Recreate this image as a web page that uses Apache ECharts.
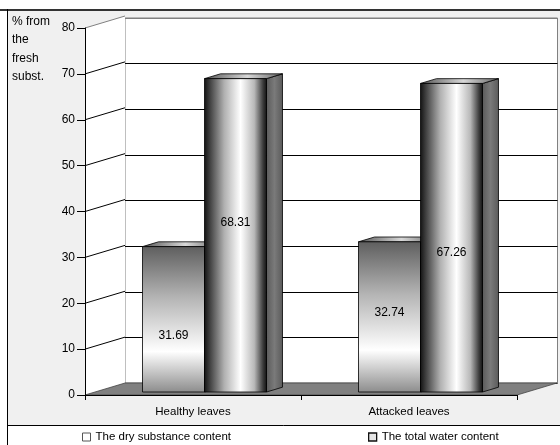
<!DOCTYPE html>
<html>
<head>
<meta charset="utf-8">
<script src="https://cdn.jsdelivr.net/npm/echarts@6/dist/echarts.min.js"></script>
<style>
  html, body { margin: 0; padding: 0; background: #fff; }
  #chart { width: 560px; height: 445px; }
</style>
</head>
<body>
<div id="chart"></div>
<script>
// Leaf water content: share of fresh substance (%)
const categories = ['Healthy leaves', 'Attacked leaves'];
const seriesNames = ['The dry substance content', 'The total water content'];
const dryValues = [31.69, 32.74];
const waterValues = [68.31, 67.26];
const Y_MIN = 0, Y_MAX = 80, Y_STEP = 10;

// 3D look: depth of the box and of the bars (pixels / fractions of depth)
const DX = 40, DY = -12;
const BAR_FRONT = 0.25, BAR_DEPTH = 0.4, BAR_FRAC = 0.287;
// where each value label sits, as a share of its bar height [series][category]
const LABEL_RISE = [[0.39, 0.53], [0.54, 0.45]];

const FONT = "'Liberation Sans', Arial, sans-serif";
const FS = 11.5;

function renderWalls(params, api) {
  const band = api.size([1, 0])[0];
  const left = api.coord([0, 0])[0] - band / 2;
  const right = api.coord([categories.length - 1, 0])[0] + band / 2;
  const y0 = api.coord([0, Y_MIN])[1];
  const yTop = api.coord([0, Y_MAX])[1];
  const children = [];
  children.push({
    type: 'polygon',
    shape: { points: [[left, yTop], [left + DX, yTop + DY], [left + DX, y0 + DY], [left, y0]] },
    style: { fill: '#fff' }
  });
  for (let v = Y_MIN + Y_STEP; v <= Y_MAX; v += Y_STEP) {
    const y = api.coord([0, v])[1];
    children.push({
      type: 'line',
      shape: { x1: left, y1: y, x2: left + DX, y2: y + DY },
      style: { stroke: v === Y_MAX ? '#808080' : '#000', lineWidth: 1 }
    });
  }
  children.push({
    type: 'polygon',
    shape: { points: [[left, y0], [left + DX, y0 + DY], [right + DX, y0 + DY], [right, y0]] },
    style: { fill: '#808080', stroke: '#444', lineWidth: 0.8 }
  });
  return { type: 'group', children };
}

function makeBarRenderer(s) {
  return function (params, api) {
    const cat = api.value(0);
    const v = api.value(1);
    const band = api.size([1, 0])[0];
    const base = api.coord([cat, 0]);
    const top = api.coord([cat, v]);
    const w = band * BAR_FRAC;
    const sx = DX * BAR_FRONT, sy = DY * BAR_FRONT;
    const bdx = DX * BAR_DEPTH, bdy = DY * BAR_DEPTH;
    const x0 = base[0] - w + s * w + sx + 1.5;
    const x1 = x0 + w;
    const yb = base[1] + sy;
    const yt = top[1] + sy;
    const front = s === 0
      ? { type: 'linear', x: 0, y: 0, x2: 0, y2: 1, colorStops: [
          { offset: 0, color: '#5e5e5e' }, { offset: 0.35, color: '#b4b4b4' },
          { offset: 0.72, color: '#ffffff' }, { offset: 1, color: '#8c8c8c' }] }
      : { type: 'linear', x: 0, y: 0, x2: 1, y2: 0, colorStops: [
          { offset: 0, color: '#111' }, { offset: 0.08, color: '#3a3a3a' },
          { offset: 0.32, color: '#b0b0b0' }, { offset: 0.58, color: '#ffffff' },
          { offset: 0.8, color: '#b8b8b8' }, { offset: 0.94, color: '#3a3a3a' },
          { offset: 1, color: '#111' }] };
    const topFill = { type: 'linear', x: 0, y: 0, x2: 1, y2: 0, colorStops: [
      { offset: 0, color: '#555' }, { offset: 0.55, color: '#d8d8d8' }, { offset: 1, color: '#666' }] };
    const sideFill = { type: 'linear', x: 0, y: 0, x2: 1, y2: 0, colorStops: [
      { offset: 0, color: '#5a5a5a' }, { offset: 0.5, color: '#7a7a7a' }, { offset: 1, color: '#5a5a5a' }] };
    const rise = LABEL_RISE[s][cat];
    return {
      type: 'group',
      children: [
        {
          type: 'polygon',
          shape: { points: [[x1, yt], [x1 + bdx, yt + bdy], [x1 + bdx, yb + bdy], [x1, yb]] },
          style: { fill: sideFill, stroke: '#000', lineWidth: 0.8 }
        },
        {
          type: 'polygon',
          shape: { points: [[x0, yt], [x1, yt], [x1 + bdx, yt + bdy], [x0 + bdx, yt + bdy]] },
          style: { fill: topFill, stroke: '#000', lineWidth: 0.8 }
        },
        {
          type: 'rect',
          shape: { x: x0, y: yt, width: w, height: yb - yt },
          style: { fill: front, stroke: '#000', lineWidth: 0.8 }
        },
        {
          type: 'text',
          style: {
            text: v.toFixed(2), x: (x0 + x1) / 2, y: yb - (yb - yt) * rise,
            align: 'center', verticalAlign: 'middle',
            fill: '#000', font: '12px ' + FONT
          }
        }
      ]
    };
  };
}

const chart = echarts.init(document.getElementById('chart'), null, { renderer: 'canvas' });

const legendBase = {
  orient: 'horizontal', top: 431, padding: 0, itemWidth: 8, itemHeight: 8, itemGap: 10,
  selectedMode: false, textStyle: { fontSize: FS, color: '#000', fontFamily: FONT }
};

chart.setOption({
  animation: false,
  textStyle: { fontFamily: FONT },
  graphic: [
    { type: 'rect', z: -20, shape: { x: 7.5, y: 9.5, width: 560, height: 416 },
      style: { fill: '#f0f0f0', stroke: null } },
    { type: 'line', z: -19, shape: { x1: 0, y1: 10, x2: 560, y2: 10 },
      style: { stroke: '#333', lineWidth: 2 } },
    { type: 'line', z: -19, shape: { x1: 7.5, y1: 9, x2: 7.5, y2: 445 },
      style: { stroke: '#000', lineWidth: 1 } },
    { type: 'line', z: -19, shape: { x1: 7.5, y1: 425.5, x2: 560, y2: 425.5 },
      style: { stroke: '#000', lineWidth: 1 } }
  ],
  title: {
    text: '% from\nthe\nfresh\nsubst.', left: 12, top: 12, padding: 0,
    textStyle: { fontSize: 12, fontWeight: 'normal', color: '#000', lineHeight: 18.5, fontFamily: FONT }
  },
  legend: [
    Object.assign({}, legendBase, { left: 82, data: [{ name: seriesNames[0], icon: 'rect',
      itemStyle: { color: '#fff', borderColor: '#555', borderWidth: 1 } }] }),
    Object.assign({}, legendBase, { left: 368, data: [{ name: seriesNames[1], icon: 'rect',
      itemStyle: { color: '#e6e6e6', borderColor: '#111', borderWidth: 1.3 } }] })
  ],
  grid: [
    { left: 85, right: 43, top: 28, bottom: 50, containLabel: false },
    { left: 125, right: 2.5, top: 18, bottom: 62, containLabel: false,
      show: true, backgroundColor: '#fff', borderColor: '#808080', borderWidth: 1 }
  ],
  xAxis: [
    {
      type: 'category', gridIndex: 0, data: categories, z: 5,
      axisLine: { lineStyle: { color: '#000', width: 1 } },
      axisTick: { show: true, length: 5, lineStyle: { color: '#000' } },
      axisLabel: { color: '#000', fontSize: FS, margin: 11, fontFamily: FONT },
      splitLine: { show: false }
    },
    {
      type: 'category', gridIndex: 1, data: categories,
      axisLine: { show: false }, axisTick: { show: false }, axisLabel: { show: false },
      splitLine: { show: false }
    }
  ],
  yAxis: [
    {
      type: 'value', gridIndex: 0, min: Y_MIN, max: Y_MAX, interval: Y_STEP, z: 5,
      axisLine: { show: true, lineStyle: { color: '#000', width: 1 } },
      axisTick: { show: true, length: 8, lineStyle: { color: '#000' } },
      axisLabel: { color: '#000', fontSize: 12, margin: 10, fontFamily: FONT },
      splitLine: { show: false }
    },
    {
      type: 'value', gridIndex: 1, min: Y_MIN, max: Y_MAX, interval: Y_STEP,
      axisLine: { show: false }, axisTick: { show: false }, axisLabel: { show: false },
      splitLine: { show: true, lineStyle: { color: ['#000', '#000', '#000', '#000', '#000', '#000', '#000', '#000', '#808080'], width: 1 } }
    }
  ],
  series: [
    {
      type: 'custom', name: 'walls', xAxisIndex: 0, yAxisIndex: 0, z: 1,
      silent: true, renderItem: renderWalls, data: [[0, 0]]
    },
    {
      type: 'custom', name: seriesNames[0], xAxisIndex: 0, yAxisIndex: 0, z: 3,
      itemStyle: { color: '#fff' },
      renderItem: makeBarRenderer(0),
      data: dryValues.map((v, i) => [i, v])
    },
    {
      type: 'custom', name: seriesNames[1], xAxisIndex: 0, yAxisIndex: 0, z: 3,
      itemStyle: { color: '#e6e6e6' },
      renderItem: makeBarRenderer(1),
      data: waterValues.map((v, i) => [i, v])
    }
  ]
});
</script>
</body>
</html>
